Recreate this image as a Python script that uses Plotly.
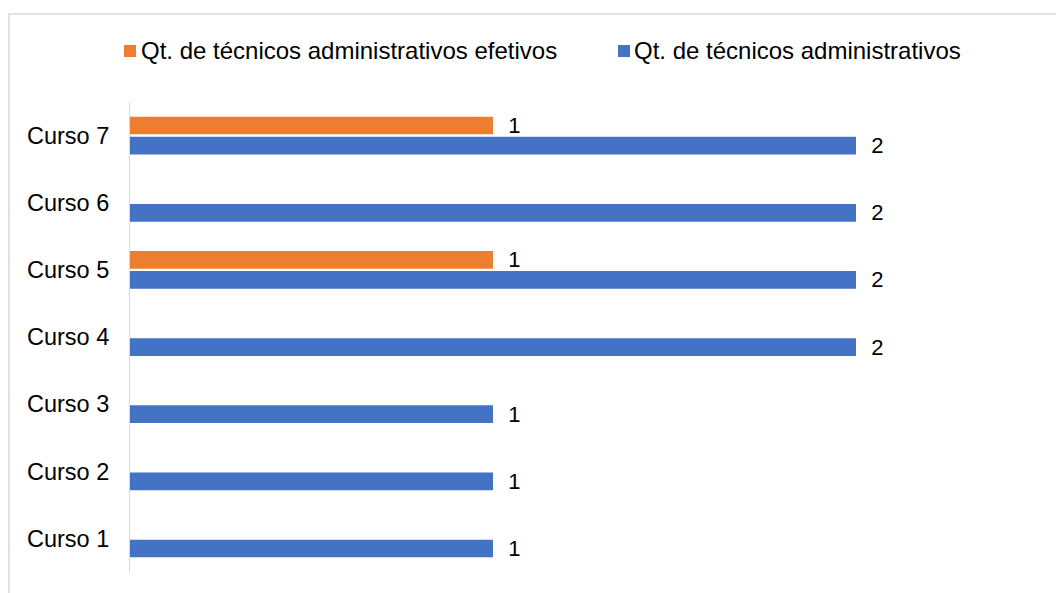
import plotly.graph_objects as go

# Data
categories = ["Curso 1", "Curso 2", "Curso 3", "Curso 4", "Curso 5", "Curso 6", "Curso 7"]
tecnicos = [1, 1, 1, 2, 2, 2, 2]
tecnicos_efetivos = [None, None, None, None, 1, None, 1]
name_tecnicos = "Qt. de técnicos administrativos"
name_efetivos = "Qt. de técnicos administrativos efetivos"

BLUE = "#4472C4"
ORANGE = "#ED7D31"
FONT = "Liberation Sans, Arial, sans-serif"

# Figure / plot-area geometry in pixels
FIG_W, FIG_H = 1056, 593
M_L, M_R, M_T, M_B = 130, 80, 102, 21
PLOT_W = FIG_W - M_L - M_R
PLOT_H = FIG_H - M_T - M_B
PX_PER_UNIT = 363.0


def px_x(x):
    return (x - M_L) / PLOT_W


def px_y(y):
    return (FIG_H - M_B - y) / PLOT_H


label_font = dict(family=FONT, size=22, color="#000000")

fig = go.Figure()
fig.add_trace(go.Bar(
    y=categories, x=tecnicos, name=name_tecnicos, orientation="h",
    marker=dict(color=BLUE, line=dict(width=0)),
    texttemplate="\u00a0\u00a0%{x}", textposition="outside", cliponaxis=False,
    constraintext="none", textfont=label_font, outsidetextfont=label_font,
))
fig.add_trace(go.Bar(
    y=categories, x=tecnicos_efetivos, name=name_efetivos, orientation="h",
    marker=dict(color=ORANGE, line=dict(width=0)),
    texttemplate="\u00a0\u00a0%{x}", textposition="outside", cliponaxis=False,
    constraintext="none", textfont=label_font, outsidetextfont=label_font,
))

# Legend drawn as swatches + text
legend_items = [(ORANGE, name_efetivos, 124, 139), (BLUE, name_tecnicos, 618, 632)]
shapes = []
annotations = []
for color, label, sq_x, tx_x in legend_items:
    shapes.append(dict(type="rect", xref="paper", yref="paper",
                       x0=px_x(sq_x), x1=px_x(sq_x + 12), y0=px_y(57), y1=px_y(45),
                       fillcolor=color, line=dict(width=0)))
    annotations.append(dict(text=label, xref="paper", yref="paper",
                            x=px_x(tx_x), y=px_y(51), xanchor="left", yanchor="middle",
                            showarrow=False, font=dict(family=FONT, size=24, color="#000000")))

# Chart-area frame
shapes.append(dict(type="rect", xref="paper", yref="paper",
                   x0=px_x(9), x1=px_x(1200), y0=px_y(700), y1=px_y(14),
                   fillcolor="rgba(0,0,0,0)", line=dict(color="#d9d9d9", width=1.5),
                   layer="below"))

fig.update_layout(
    width=FIG_W, height=FIG_H,
    margin=dict(l=M_L, r=M_R, t=M_T, b=M_B, pad=0),
    paper_bgcolor="white", plot_bgcolor="white",
    barmode="group", bargap=0.4, bargroupgap=0.12,
    showlegend=False,
    shapes=shapes, annotations=annotations,
    font=dict(family=FONT, color="#000000"),
)
fig.update_xaxes(range=[0, PLOT_W / PX_PER_UNIT], showgrid=False, zeroline=False,
                 showticklabels=False, showline=False, ticks="")
fig.update_yaxes(categoryorder="array", categoryarray=categories,
                 showgrid=False, zeroline=False, showline=True, linecolor="#d9d9d9",
                 linewidth=1, ticks="", ticklabelstandoff=15,
                 tickfont=dict(family=FONT, size=23.5, color="#000000"))

fig.write_html("out.html")
